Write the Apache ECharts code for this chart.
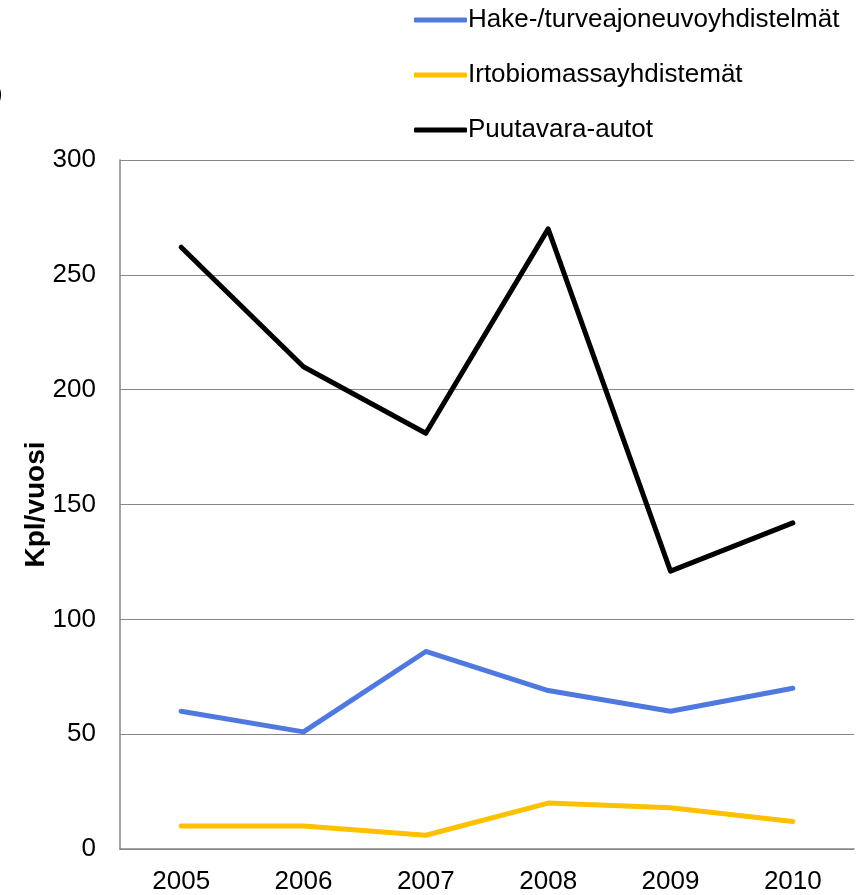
<!DOCTYPE html>
<html>
<head>
<meta charset="utf-8">
<script src="https://cdn.jsdelivr.net/npm/echarts@6/dist/echarts.min.js"></script>
<style>
  html, body { margin: 0; padding: 0; background: #fff; }
  #chart { width: 867px; height: 895px; }
</style>
</head>
<body>
<div id="chart"></div>
<script>
// Vehicle registrations per year, by vehicle combination type
const years = ['2005', '2006', '2007', '2008', '2009', '2010'];
const hakeTurve = [60, 51, 86, 69, 60, 70];
const irtobiomassa = [10, 10, 6, 20, 18, 12];
const puutavara = [262, 210, 181, 270, 121, 142];
const seriesNames = ['Hake-/turveajoneuvoyhdistelmät', 'Irtobiomassayhdistemät', 'Puutavara-autot'];
const seriesColors = ['#5079DF', '#FFC000', '#000000'];
const yAxisName = 'Kpl/vuosi';

const font = 'Liberation Sans, Arial, sans-serif';
const chart = echarts.init(document.getElementById('chart'));

function lineSeries(i, data) {
  return {
    name: seriesNames[i],
    type: 'line',
    data: data,
    symbol: 'none',
    lineStyle: { width: 5, color: seriesColors[i], cap: 'round', join: 'round' },
    itemStyle: { color: seriesColors[i] }
  };
}

chart.setOption({
  animation: false,
  textStyle: { fontFamily: font },
  graphic: [{
    type: 'text',
    left: -6,
    top: 82,
    style: { text: ')', font: '26px ' + font, fill: '#000' }
  }],
  legend: {
    orient: 'vertical',
    left: 409,
    top: 2,
    itemWidth: 53,
    itemHeight: 5,
    itemGap: 29,
    icon: 'roundRect',
    textStyle: { fontSize: 26, color: '#000', fontFamily: font, padding: [0, 0, 0, -4] },
    data: seriesNames
  },
  grid: { left: 120, right: 13, top: 160, bottom: 44 },
  xAxis: {
    type: 'category',
    data: years,
    boundaryGap: true,
    axisLine: { lineStyle: { color: '#868686', width: 1.5 } },
    axisTick: { show: false },
    axisLabel: { fontSize: 26, color: '#000', margin: 20, fontFamily: font }
  },
  yAxis: {
    type: 'value',
    min: 0,
    max: 300,
    interval: 50,
    name: yAxisName,
    nameLocation: 'middle',
    nameGap: 70,
    nameMoveOverlap: false,
    nameTextStyle: { fontSize: 28, fontWeight: 'bold', color: '#000', fontFamily: font },
    axisLine: { show: true, lineStyle: { color: '#868686', width: 1.5 } },
    axisTick: { show: false },
    axisLabel: { fontSize: 26, color: '#000', margin: 24, fontFamily: font },
    splitLine: { lineStyle: { color: '#868686', width: 1.2 } }
  },
  series: [
    lineSeries(0, hakeTurve),
    lineSeries(1, irtobiomassa),
    lineSeries(2, puutavara)
  ]
});
</script>
</body>
</html>
